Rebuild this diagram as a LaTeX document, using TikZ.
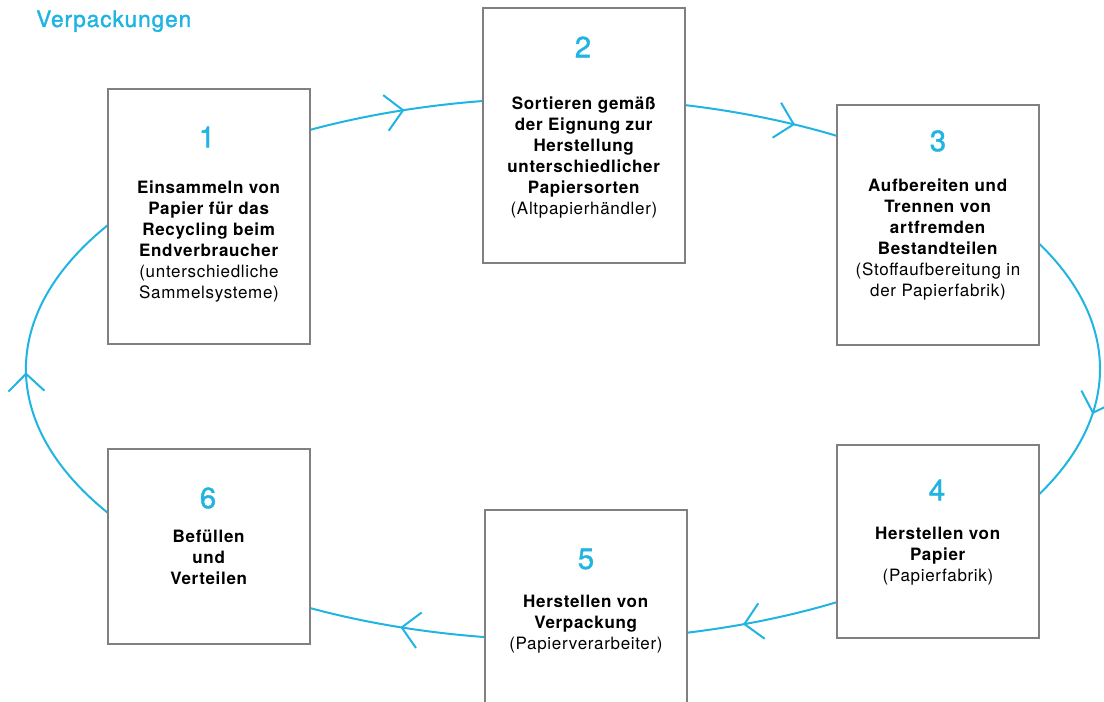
\documentclass[tikz,border=0pt]{standalone}
\usepackage{fontspec}
\setmainfont{TeX Gyre Heros}[LetterSpace=4]
\usepackage{tikz}
\usetikzlibrary{arrows.meta}
\usetikzlibrary{decorations.markings}
\usetikzlibrary{backgrounds}
\definecolor{kreis}{RGB}{32,180,226}
\definecolor{rahmen}{RGB}{128,128,128}

\begin{document}
\begin{tikzpicture}[x=0.75pt,y=0.75pt,yscale=-1,xscale=1,
	box/.style={draw=rahmen, line width=1.5pt, fill=white, minimum width=151.5pt, inner sep=0pt, outer sep=0pt},
	nummer/.style={text=kreis, inner sep=0pt, font=\fontsize{22}{26}\selectfont\addfontfeatures{FakeBold=1.2}},
	txt/.style={anchor=north, align=center, inner sep=0pt, font=\fontsize{12.75}{15.75}\selectfont},
	flow/.style={draw=kreis, line width=1.5pt, decoration={markings, mark=at position #1 with {\arrow{Straight Barb[length=13pt,width=27pt]}}}, postaction={decorate}}
	]
	\useasboundingbox (0,0) rectangle (1104,702);

	% Title
	\node[anchor=base west, inner sep=0pt, text=kreis, font=\fontsize{17}{20}\selectfont\addfontfeatures{FakeBold=1.5}] (titel) at (36,27) {Verpackungen};

	%Shape: Box 1
	\node[box, minimum height=191.25pt] (b1) at (209,216.5) {};
	\node[nummer] (n1) at (207,137) {1};
	\node[txt] (t1) at (209,181) {\textbf{Einsammeln von}\\\textbf{Papier für das}\\\textbf{Recycling beim}\\\textbf{Endverbraucher}\\(unterschiedliche\\Sammelsysteme)};
	%Shape: Box 2
	\node[box, minimum height=191.25pt] (b2) at (584,135.5) {};
	\node[nummer] (n2) at (583,47) {2};
	\node[txt] (t2) at (584,97) {\textbf{Sortieren gemäß}\\\textbf{der Eignung zur}\\\textbf{Herstellung}\\\textbf{unterschiedlicher}\\\textbf{Papiersorten}\\(Altpapierhändler)};
	%Shape: Box 3
	\node[box, minimum height=180pt] (b3) at (938,225) {};
	\node[nummer] (n3) at (938,141) {3};
	\node[txt] (t3) at (938,179) {\textbf{Aufbereiten und}\\\textbf{Trennen von}\\\textbf{artfremden}\\\textbf{Bestandteilen}\\(Stoffaufbereitung in\\der Papierfabrik)};
	%Shape: Box 4
	\node[box, minimum height=144.75pt] (b4) at (938,541.5) {};
	\node[nummer] (n4) at (937,490) {4};
	\node[txt] (t4) at (938,527) {\textbf{Herstellen von}\\\textbf{Papier}\\(Papierfabrik)};
	%Shape: Box 5
	\node[box, minimum height=146.25pt] (b5) at (586,607.5) {};
	\node[nummer] (n5) at (586,559) {5};
	\node[txt] (t5) at (586,595) {\textbf{Herstellen von}\\\textbf{Verpackung}\\(Papierverarbeiter)};
	%Shape: Box 6
	\node[box, minimum height=146.25pt] (b6) at (209,546.5) {};
	\node[nummer] (n6) at (208,498) {6};
	\node[txt] (t6) at (209,530) {\textbf{Befüllen}\\\textbf{und}\\\textbf{Verteilen}};

	% Cycle (arcs of one ellipse, centre 563,369)
	\begin{scope}[on background layer]
	\draw[flow=0.55] (b1.east |- 0,129.9) arc[start angle=-118.1, end angle=-98.57, x radius=537, y radius=271];
	\draw[flow=0.72] (b2.east |- 0,105.1) arc[start angle=-76.87, end angle=-59.32, x radius=537, y radius=271];
	\draw[flow=0.66] (b3.east |- 0,243.5) arc[start angle=-27.58, end angle=27.58, x radius=537, y radius=271];
	\draw[flow=0.63] (b4.west |- 0,602.1) arc[start angle=59.32, end angle=76.65, x radius=537, y radius=271];
	\draw[flow=0.48] (b5.west |- 0,637.1) arc[start angle=98.35, end angle=118.1, x radius=537, y radius=271];
	\draw[flow=0.49] (b6.west |- 0,513) arc[start angle=147.9, end angle=212.1, x radius=537, y radius=271];
	\end{scope}

\end{tikzpicture}
\end{document}
